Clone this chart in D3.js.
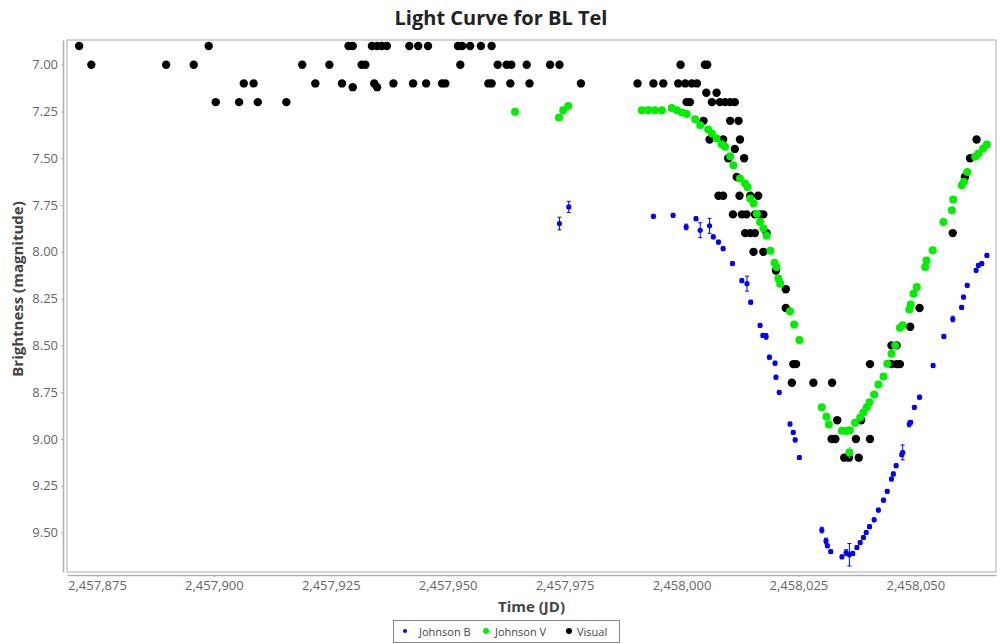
<!DOCTYPE html>
<html>
<head>
<meta charset="utf-8">
<script src="https://cdn.jsdelivr.net/npm/d3@7"></script>
<style>
  html, body { margin: 0; padding: 0; background: #fff; }
  svg { display: block; font-family: "Open Sans", "DejaVu Sans", sans-serif; }
</style>
</head>
<body>
<svg id="chart" width="1002" height="644"></svg>
<script>
// ---------- DATA ----------
const chartTitle = "Light Curve for BL Tel";
const xLabel = "Time (JD)";
const yLabel = "Brightness (magnitude)";
const seriesNames = ["Johnson B", "Johnson V", "Visual"];
const seriesColors = ["#0000ff", "#00ee00", "#000000"];

const xTicks = [2457875, 2457900, 2457925, 2457950, 2457975, 2458000, 2458025, 2458050];
const yTicks = [7.00, 7.25, 7.50, 7.75, 8.00, 8.25, 8.50, 8.75, 9.00, 9.25, 9.50];
const xDomain = [2457868.6, 2458067.25];
const yDomain = [6.868, 9.711];

// Visual: [JD, magnitude]
const visualJD = [
  2457871.2, 2457898.9, 2457928.8, 2457929.7, 2457933.8, 2457934.9, 2457935.9, 2457937.0,
  2457941.8, 2457943.7, 2457945.8, 2457952.2, 2457953.1, 2457954.8, 2457957.1, 2457959.4,
  2457873.8, 2457889.8, 2457895.7, 2457918.9, 2457924.7, 2457931.6, 2457932.4, 2457952.7,
  2457960.7, 2457962.6, 2457963.6, 2457966.9, 2457971.9, 2457973.9, 2457999.8, 2458005.0, 2458005.5,
  2457906.4, 2457908.5, 2457921.7, 2457927.4, 2457934.3, 2457938.4, 2457942.6, 2457945.4,
  2457948.8, 2457949.5, 2457958.7, 2457959.4, 2457963.4, 2457967.5, 2457978.5, 2457990.6,
  2457994.0, 2457996.1, 2457999.3, 2458000.8, 2458002.2, 2458003.3,
  2457929.7, 2457934.9,
  2458005.3, 2458007.5,
  2457900.4, 2457905.4, 2457909.4, 2457915.5, 2458001.1, 2458001.8, 2458006.5, 2458008.2,
  2458009.3, 2458010.4, 2458011.4,
  2458004.7, 2458010.4, 2458012.2,
  2458006.0, 2458008.9, 2458012.5,
  2458011.4,
  2458010.0, 2458013.4,
  2458011.8,
  2458007.9, 2458008.9, 2458012.4, 2458014.7, 2458016.4,
  2458011.0, 2458012.9, 2458013.9, 2458015.7, 2458016.8, 2458017.5,
  2458013.6, 2458014.7, 2458015.7, 2458018.2,
  2458015.4, 2458017.5,
  2458020.2, 2458022.3, 2458022.3, 2458050.9, 2458048.9,
  2458044.9, 2458046.0,
  2458023.9, 2458024.5, 2458040.3, 2458044.9, 2458046.0, 2458046.7,
  2458023.6, 2458028.2, 2458032.2,
  2458033.3, 2458038.4,
  2458032.1, 2458032.9, 2458037.3, 2458040.3,
  2458034.8, 2458035.8, 2458037.9,
  2458058.0, 2458060.6, 2458061.7, 2458063.1
];
const visualMag = [
  6.9, 6.9, 6.9, 6.9, 6.9, 6.9, 6.9, 6.9,
  6.9, 6.9, 6.9, 6.9, 6.9, 6.9, 6.9, 6.9,
  7.0, 7.0, 7.0, 7.0, 7.0, 7.0, 7.0, 7.0,
  7.0, 7.0, 7.0, 7.0, 7.0, 7.0, 7.0, 7.0, 7.0,
  7.1, 7.1, 7.1, 7.1, 7.1, 7.1, 7.1, 7.1,
  7.1, 7.1, 7.1, 7.1, 7.1, 7.1, 7.1, 7.1,
  7.1, 7.1, 7.1, 7.1, 7.1, 7.1,
  7.12, 7.12,
  7.15, 7.15,
  7.2, 7.2, 7.2, 7.2, 7.2, 7.2, 7.2, 7.2,
  7.2, 7.2, 7.2,
  7.3, 7.3, 7.3,
  7.4, 7.4, 7.4,
  7.45,
  7.5, 7.5,
  7.6,
  7.7, 7.7, 7.7, 7.7, 7.7,
  7.8, 7.8, 7.8, 7.8, 7.8, 7.8,
  7.9, 7.9, 7.9, 7.9,
  8.0, 8.0,
  8.1, 8.2, 8.3, 8.3, 8.4,
  8.5, 8.5,
  8.6, 8.6, 8.6, 8.6, 8.6, 8.6,
  8.7, 8.7, 8.7,
  8.9, 8.9,
  9.0, 9.0, 9.0, 9.0,
  9.1, 9.1, 9.1,
  7.9, 7.6, 7.5, 7.4
];

// Johnson V: JD, magnitude, error
const vJD = [
  2457964.4, 2457973.8, 2457974.7, 2457975.8,
  2457991.5, 2457992.9, 2457994.3, 2457995.8,
  2457997.9, 2457999.0, 2458000.1, 2458001.1, 2458002.9, 2458004.0, 2458005.7, 2458006.5,
  2458007.5, 2458008.6, 2458009.3, 2458010.4, 2458011.1, 2458012.5, 2458013.6, 2458014.1,
  2458014.7, 2458015.4, 2458016.1, 2458016.8, 2458017.5, 2458018.2, 2458019.0, 2458019.9,
  2458020.3, 2458020.7, 2458021.1, 2458023.2, 2458024.1, 2458025.2,
  2458030.0, 2458031.0, 2458031.5, 2458034.3, 2458035.3, 2458036.0, 2458035.9, 2458037.1,
  2458038.2, 2458038.9, 2458039.6, 2458040.2, 2458041.2, 2458042.1, 2458043.2, 2458044.0,
  2458044.9, 2458045.7, 2458046.7, 2458047.3, 2458048.7, 2458049.0, 2458049.6, 2458050.3,
  2458052.1, 2458052.4, 2458053.7, 2458056.0, 2458057.8, 2458058.1, 2458059.9, 2458060.4,
  2458061.1, 2458062.8, 2458063.5, 2458064.5, 2458065.3
];
const vMag = [
  7.252, 7.282, 7.243, 7.221,
  7.243, 7.243, 7.243, 7.243,
  7.232, 7.243, 7.256, 7.264, 7.292, 7.323, 7.346, 7.367,
  7.394, 7.425, 7.439, 7.489, 7.537, 7.608, 7.635, 7.653,
  7.715, 7.742, 7.796, 7.840, 7.874, 7.914, 7.994, 8.059,
  8.081, 8.143, 8.170, 8.318, 8.388, 8.471,
  8.830, 8.881, 8.923, 8.956, 8.958, 8.953, 9.072, 8.913,
  8.886, 8.858, 8.831, 8.804, 8.763, 8.709, 8.666, 8.598,
  8.545, 8.501, 8.406, 8.393, 8.308, 8.281, 8.224, 8.188,
  8.081, 8.046, 7.992, 7.840, 7.778, 7.721, 7.644, 7.626,
  7.573, 7.492, 7.474, 7.448, 7.426
];
const vErr = [
  0.005, 0.005, 0.005, 0.005,
  0.005, 0.005, 0.005, 0.005,
  0.005, 0.005, 0.005, 0.005, 0.005, 0.005, 0.005, 0.005,
  0.005, 0.005, 0.005, 0.005, 0.005, 0.005, 0.005, 0.005,
  0.005, 0.005, 0.005, 0.005, 0.005, 0.005, 0.005, 0.005,
  0.005, 0.005, 0.005, 0.005, 0.005, 0.005,
  0.005, 0.005, 0.005, 0.005, 0.005, 0.005, 0.03, 0.005,
  0.005, 0.005, 0.005, 0.005, 0.005, 0.005, 0.005, 0.005,
  0.005, 0.005, 0.005, 0.005, 0.005, 0.005, 0.005, 0.005,
  0.005, 0.005, 0.005, 0.005, 0.005, 0.005, 0.005, 0.005,
  0.005, 0.005, 0.005, 0.005, 0.005
];

// Johnson B: JD, magnitude, error
const bJD = [
  2457973.9, 2457975.9, 2457994.0, 2457998.2, 2458001.0, 2458003.1, 2458004.0, 2458006.0,
  2458006.8, 2458007.9, 2458008.9, 2458010.9, 2458012.9, 2458014.0, 2458014.8, 2458016.8,
  2458017.4, 2458018.1, 2458018.8, 2458020.0, 2458020.2, 2458020.9, 2458023.2, 2458023.9,
  2458024.3, 2458025.2, 2458030.0, 2458030.9, 2458031.2, 2458031.9, 2458034.3, 2458035.2,
  2458035.9, 2458036.6, 2458037.5, 2458038.2, 2458038.9, 2458039.5, 2458040.2, 2458041.2,
  2458042.1, 2458043.2, 2458044.0, 2458044.9, 2458045.3, 2458045.9, 2458047.1, 2458047.3,
  2458048.7, 2458049.0, 2458049.8, 2458050.9, 2458053.8, 2458056.1, 2458058.0, 2458059.9,
  2458060.3, 2458061.1, 2458063.0, 2458063.5, 2458064.2, 2458065.3
];
const bMag = [
  7.849, 7.760, 7.810, 7.805, 7.867, 7.823, 7.885, 7.861,
  7.920, 7.948, 7.983, 8.063, 8.154, 8.170, 8.269, 8.393,
  8.447, 8.452, 8.563, 8.595, 8.670, 8.751, 8.920, 8.965,
  9.005, 9.099, 9.487, 9.545, 9.571, 9.602, 9.630, 9.607,
  9.619, 9.612, 9.580, 9.554, 9.527, 9.500, 9.469, 9.432,
  9.380, 9.327, 9.280, 9.214, 9.187, 9.143, 9.084, 9.072,
  8.920, 8.911, 8.831, 8.777, 8.608, 8.452, 8.359, 8.297,
  8.242, 8.179, 8.099, 8.072, 8.063, 8.019
];
const bErr = [
  0.034, 0.030, 0.010, 0.010, 0.015, 0.010, 0.040, 0.040,
  0.010, 0.010, 0.010, 0.010, 0.010, 0.040, 0.010, 0.010,
  0.010, 0.015, 0.010, 0.010, 0.010, 0.010, 0.010, 0.010,
  0.010, 0.010, 0.015, 0.015, 0.010, 0.010, 0.010, 0.015,
  0.060, 0.010, 0.010, 0.010, 0.010, 0.010, 0.010, 0.010,
  0.010, 0.010, 0.010, 0.010, 0.010, 0.010, 0.010, 0.040,
  0.015, 0.010, 0.010, 0.010, 0.010, 0.010, 0.015, 0.010,
  0.010, 0.010, 0.010, 0.010, 0.010, 0.010
];

// ---------- CHART ----------
const svg = d3.select("#chart");
const plot = { left: 67, right: 996, top: 40, bottom: 572 };

const x = d3.scaleLinear().domain(xDomain).range([plot.left, plot.right]);
const y = d3.scaleLinear().domain(yDomain).range([plot.top, plot.bottom]);

// plot background + border
svg.append("rect")
  .attr("x", plot.left).attr("y", plot.top)
  .attr("width", plot.right - plot.left).attr("height", plot.bottom - plot.top)
  .attr("fill", "#fff").attr("stroke", "#c8c8c8").attr("stroke-width", 1.5);

// axes
const xAxis = d3.axisBottom(x).tickValues(xTicks).tickFormat(d3.format(",")).tickSizeInner(2).tickSizeOuter(0).tickPadding(4);
const yAxis = d3.axisLeft(y).tickValues(yTicks).tickFormat(d3.format(".2f")).tickSizeInner(2).tickSizeOuter(0).tickPadding(3);

const gx = svg.append("g").attr("transform", `translate(0,${plot.bottom + 3})`).call(xAxis);
const gy = svg.append("g").attr("transform", `translate(${plot.left - 4},0)`).call(yAxis);
[gx, gy].forEach(g => {
  g.select(".domain").attr("stroke", "#b0b0b0").attr("stroke-width", 1.5);
  g.selectAll(".tick line").attr("stroke", "#b0b0b0");
  g.selectAll(".tick text").attr("fill", "#666").style("font-size", "13px")
    .style("font-family", "'Open Sans', sans-serif");
});

// titles
svg.append("text").attr("x", 501).attr("y", 25).attr("text-anchor", "middle")
  .style("font-size", "20px").style("font-weight", "bold").attr("fill", "#222").text(chartTitle);
svg.append("text").attr("x", (plot.left + plot.right) / 2).attr("y", 612).attr("text-anchor", "middle")
  .style("font-size", "15px").style("font-weight", "bold").attr("fill", "#444").text(xLabel);
svg.append("text").attr("transform", "translate(23,289) rotate(-90)").attr("text-anchor", "middle")
  .style("font-size", "15px").style("font-weight", "bold").attr("fill", "#444").text(yLabel);

const gData = svg.append("g");

// Visual
gData.append("g").selectAll("circle").data(d3.range(visualJD.length)).join("circle")
  .attr("cx", i => x(visualJD[i])).attr("cy", i => y(visualMag[i])).attr("r", 4.2)
  .attr("fill", seriesColors[2]);

// Johnson V
const gV = gData.append("g");
gV.selectAll("line").data(d3.range(vJD.length).filter(i => vErr[i] > 0.01)).join("line")
  .attr("x1", i => x(vJD[i])).attr("x2", i => x(vJD[i]))
  .attr("y1", i => y(vMag[i] - vErr[i])).attr("y2", i => y(vMag[i] + vErr[i]))
  .attr("stroke", seriesColors[1]).attr("stroke-width", 1);
gV.selectAll("circle").data(d3.range(vJD.length)).join("circle")
  .attr("cx", i => x(vJD[i])).attr("cy", i => y(vMag[i])).attr("r", 4)
  .attr("fill", seriesColors[1]);

// Johnson B with error bars
const gB = gData.append("g");
const bIdx = d3.range(bJD.length);
gB.selectAll("line.v").data(bIdx).join("line").attr("class", "v")
  .attr("x1", i => x(bJD[i])).attr("x2", i => x(bJD[i]))
  .attr("y1", i => y(bMag[i] - bErr[i])).attr("y2", i => y(bMag[i] + bErr[i]))
  .attr("stroke", seriesColors[0]).attr("stroke-width", 1);
gB.selectAll("line.t").data(bIdx).join("line").attr("class", "t")
  .attr("x1", i => x(bJD[i]) - 2).attr("x2", i => x(bJD[i]) + 2)
  .attr("y1", i => y(bMag[i] - bErr[i])).attr("y2", i => y(bMag[i] - bErr[i]))
  .attr("stroke", seriesColors[0]).attr("stroke-width", 1);
gB.selectAll("line.b").data(bIdx).join("line").attr("class", "b")
  .attr("x1", i => x(bJD[i]) - 2).attr("x2", i => x(bJD[i]) + 2)
  .attr("y1", i => y(bMag[i] + bErr[i])).attr("y2", i => y(bMag[i] + bErr[i]))
  .attr("stroke", seriesColors[0]).attr("stroke-width", 1);
gB.selectAll("circle").data(bIdx).join("circle")
  .attr("cx", i => x(bJD[i])).attr("cy", i => y(bMag[i])).attr("r", 2.6)
  .attr("fill", seriesColors[0]);

// Legend
const legend = svg.append("g");
legend.append("rect").attr("x", 393.5).attr("y", 620.5).attr("width", 226).attr("height", 22)
  .attr("fill", "#fff").attr("stroke", "#888").attr("stroke-width", 1);
const legItems = [
  { dx: 405, tx: 419, r: 2 },
  { dx: 486, tx: 495, r: 3 },
  { dx: 569, tx: 577, r: 3 }
];
seriesNames.forEach((name, i) => {
  legend.append("circle").attr("cx", legItems[i].dx).attr("cy", 631).attr("r", legItems[i].r)
    .attr("fill", seriesColors[i]);
  legend.append("text").attr("x", legItems[i].tx).attr("y", 635.5)
    .style("font-size", "11px").attr("fill", "#444").text(name);
});
</script>
</body>
</html>
